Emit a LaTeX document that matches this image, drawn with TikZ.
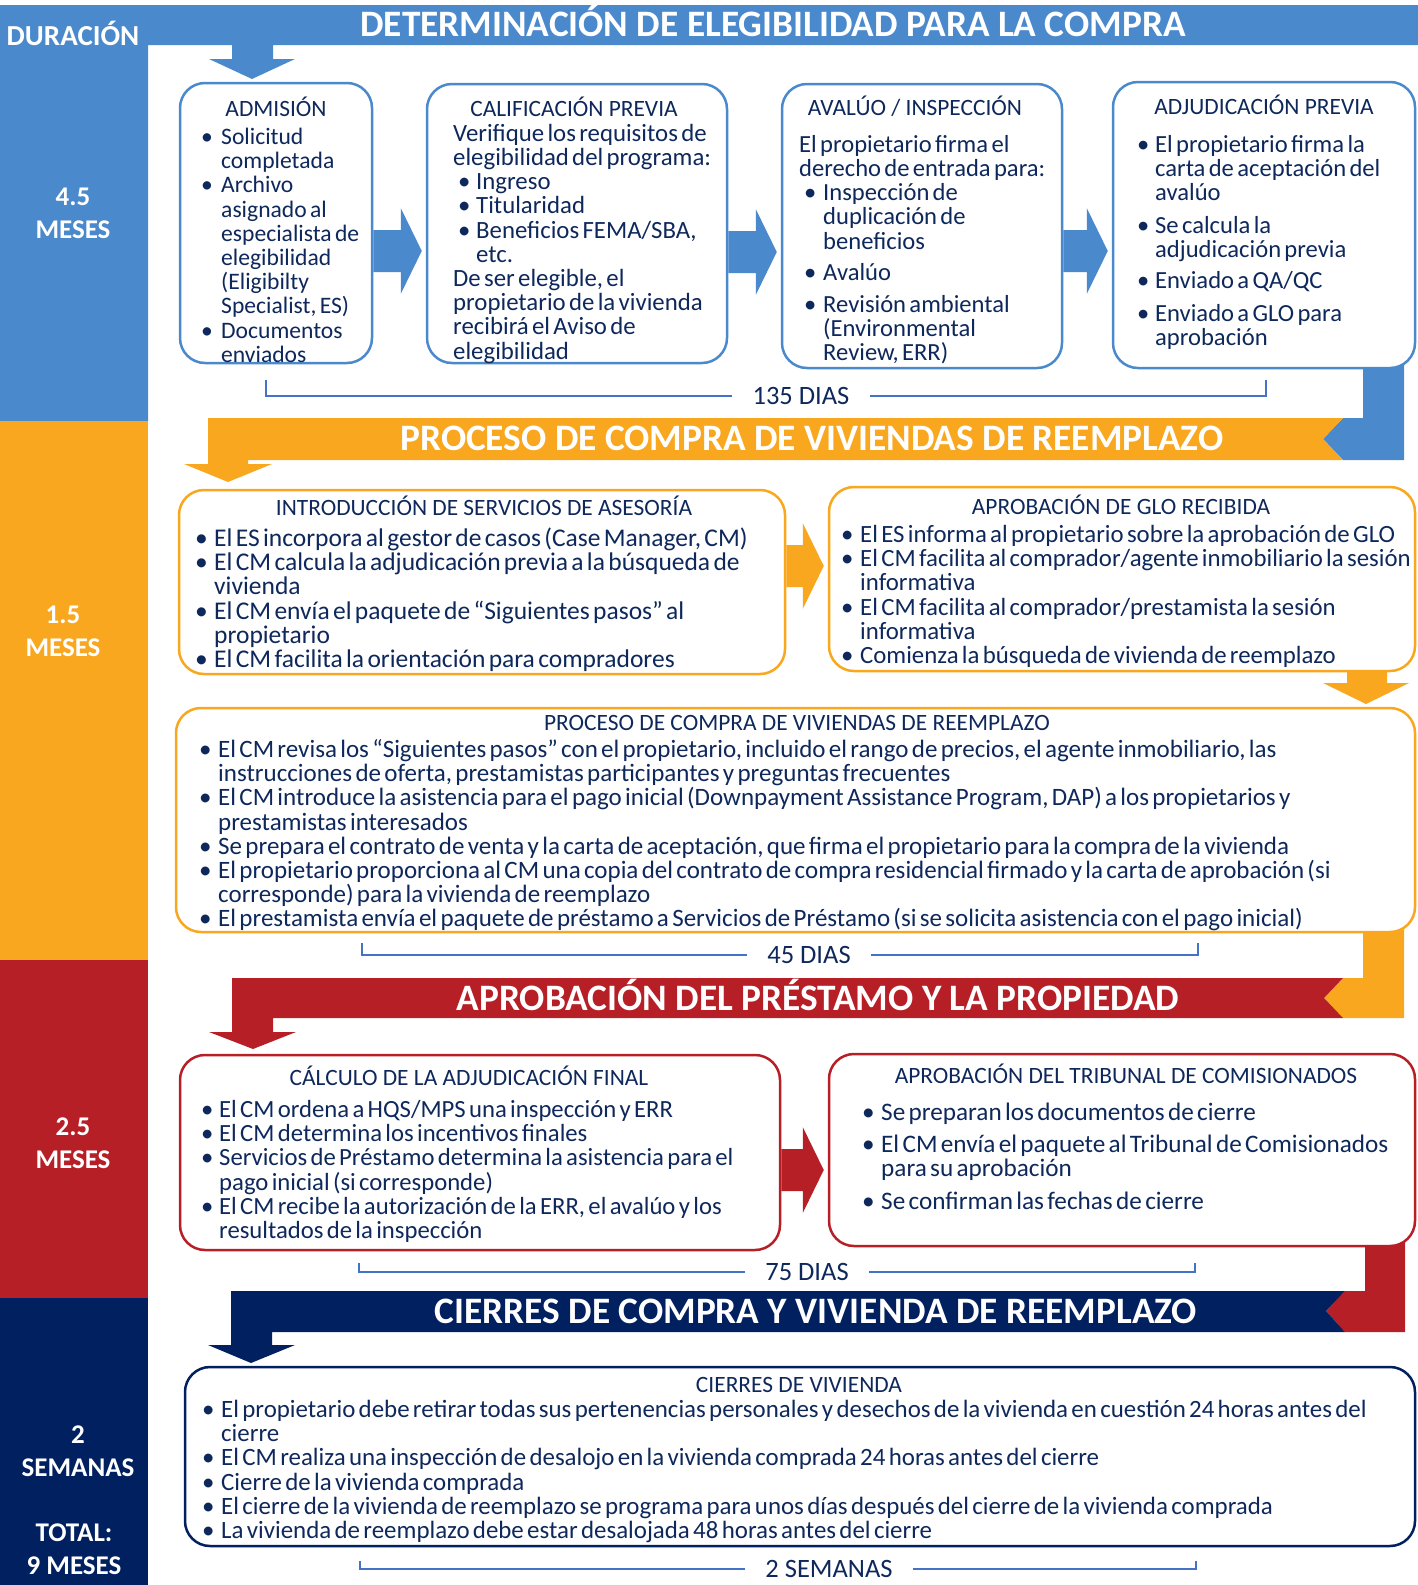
\documentclass[tikz,border=0pt]{standalone}
\usepackage{fontspec}
\setmainfont{Carlito}
\usepackage{tikz}
\usetikzlibrary{calc}
\usetikzlibrary{positioning}

\definecolor{cblue}{RGB}{74,137,204}
\definecolor{corange}{RGB}{249,167,30}
\definecolor{cred}{RGB}{183,31,39}
\definecolor{cnavy}{RGB}{0,32,96}
\definecolor{ctext}{RGB}{14,40,92}
\definecolor{cline}{RGB}{68,114,196}

% bullet lines with hanging indent
\newlength\bind
\newlength\boff
\newcommand{\lb}{\newline}
\newcommand{\fst}{\rule{0pt}{21pt}}
\newcommand{\bodyfont}[1]{\fontsize{#1}{24.2}\selectfont}
\newcommand{\bitem}[1]{\par\noindent\hangindent=\bind\hangafter=1\makebox[\bind][l]{\hspace{\boff}\textbullet}#1}
\newcommand{\bitemsp}[2]{\par\vspace{#1}\bitem{#2}}
% block arrow between two boxes at height #4
\newcommand{\harrow}[4]{%
  \fill[#1] (#2.east |- 0,#4-21) -- ($(#3.west |- 0,#4-21)+(-25,0)$)
    -- ($(#3.west |- 0,#4-43)+(-25,0)$) -- ($(#3.west |- 0,#4)+(-4,0)$)
    -- ($(#3.west |- 0,#4+43)+(-25,0)$) -- ($(#3.west |- 0,#4+21)+(-25,0)$)
    -- (#2.east |- 0,#4+21) -- cycle;}

\begin{document}
\begin{tikzpicture}
		[
		x=1pt, y=-1pt
		]
		
		% Styles for boxes and texts
		\tikzstyle{phasebox}=[line width=2.5pt, fill=white, rounded corners=25pt, inner sep=0pt]
		\tikzstyle{boxtitle}=[anchor=base, inner sep=0pt, text=ctext, font=\fontsize{23.4}{24}\selectfont]
		\tikzstyle{boxbody}=[anchor=north west, inner sep=0pt, text=ctext]
		\tikzstyle{bartitle}=[anchor=base, inner sep=0pt, text=white, font=\fontsize{37.3}{40}\selectfont\bfseries]
		\tikzstyle{sidelabel}=[align=center, inner sep=0pt, text=white, font=\fontsize{27}{33}\selectfont\bfseries]
		\tikzstyle{days}=[inner xsep=20pt, inner ysep=0pt, text=ctext, font=\fontsize{26.5}{28}\selectfont]
		\tikzstyle{bracket}=[draw=cline, line width=1.3pt]
		
		\useasboundingbox (0,0) rectangle (1418,1585);
		
		% Bars and duration column
		\fill[cblue] (0,5) -- (1418,5) -- (1418,45) -- (273,45) -- (273,59) -- (295,59) -- (252,79)
		  -- (209,59) -- (232,59) -- (232,45) -- (148,45) -- (148,421) -- (0,421) -- cycle;
		\fill[cblue] (1363,350) -- (1404,350) -- (1404,460) -- (1343,460) -- (1323,439) -- (1343,418) -- (1363,418) -- cycle;
		\fill[corange] (0,421) rectangle (148,960);
		\fill[corange] (208,418) -- (1343,418) -- (1323,439) -- (1343,460) -- (248,460) -- (248,464) -- (272,464)
		  -- (228,482) -- (184,464) -- (208,464) -- cycle;
		\fill[corange] (1347,660) -- (1387,660) -- (1387,683) -- (1409,683) -- (1366,704) -- (1323,683) -- (1347,683) -- cycle;
		\fill[corange] (1363,910) -- (1404,910) -- (1404,1018) -- (1343,1018) -- (1324,998) -- (1343,978) -- (1363,978) -- cycle;
		\fill[cred] (0,960) rectangle (148,1298);
		\fill[cred] (232,978) -- (1343,978) -- (1324,998) -- (1343,1018) -- (273,1018) -- (273,1032) -- (296,1032)
		  -- (253,1049) -- (209,1032) -- (232,1032) -- cycle;
		\fill[cred] (1365,1230) -- (1405,1230) -- (1405,1332) -- (1345,1332) -- (1326,1311) -- (1345,1291) -- (1365,1291) -- cycle;
		\fill[cnavy] (0,1298) rectangle (148,1585);
		\fill[cnavy] (231,1291) -- (1345,1291) -- (1326,1311) -- (1345,1332) -- (272,1332) -- (272,1345) -- (295,1345)
		  -- (251,1363) -- (208,1345) -- (231,1345) -- cycle;
		
		% Bar titles
		\node[bartitle] (t1) at (773,36) {DETERMINACIÓN DE ELEGIBILIDAD PARA LA COMPRA};
		\node[bartitle] (t2) at (812,450) {PROCESO DE COMPRA DE VIVIENDAS DE REEMPLAZO};
		\node[bartitle] (t3) at (818,1010) {APROBACIÓN DEL PRÉSTAMO Y LA PROPIEDAD};
		\node[bartitle] (t4) at (816,1323) {CIERRES DE COMPRA Y VIVIENDA DE REEMPLAZO};
		
		% Duration column
		\node[sidelabel, anchor=base, font=\fontsize{29}{33}\selectfont\bfseries] (dur) at (73,45) {DURACIÓN};
		\node[sidelabel] (m1) at (73,213) {4.5\\MESES};
		\node[sidelabel] (m2) at (63,631) {1.5\\MESES};
		\node[sidelabel] (m3) at (73,1143) {2.5\\MESES};
		\node[sidelabel] (m4) at (78,1451) {2\\SEMANAS};
		\node[sidelabel] (tot) at (74,1549) {TOTAL:\\9 MESES};
		
		% Boxes
		\node[phasebox, draw=cblue, minimum width=192pt, minimum height=280pt] (adm) at (276,223) {};
		\node[phasebox, draw=cblue, minimum width=300pt, minimum height=279pt] (cal) at (577,223.5) {};
		\node[phasebox, draw=cblue, minimum width=280pt, minimum height=284pt] (ava) at (922,226) {};
		\node[phasebox, draw=cblue, minimum width=302pt, minimum height=286pt] (adj) at (1264,225) {};
		\node[phasebox, draw=corange, minimum width=606pt, minimum height=184pt] (intro) at (482,582) {};
		\node[phasebox, draw=corange, minimum width=586pt, minimum height=184pt] (glo) at (1122,579) {};
		\node[phasebox, draw=corange, minimum width=1239pt, minimum height=224pt] (comp) at (795.5,820) {};
		\node[phasebox, draw=cred, minimum width=600pt, minimum height=195pt] (calc) at (480,1152.5) {};
		\node[phasebox, draw=cred, minimum width=586pt, minimum height=192pt] (trib) at (1122,1150) {};
		\node[phasebox, draw=cnavy, minimum width=1230pt, minimum height=179pt] (cier) at (800,1456.5) {};
		
		% Arrows between boxes
		\harrow{cblue}{adm}{cal}{251}
		\harrow{cblue}{cal}{ava}{252}
		\harrow{cblue}{ava}{adj}{251}
		\harrow{corange}{intro}{glo}{566}
		\harrow{cred}{calc}{trib}{1170}
		
		% Box titles
		\node[boxtitle] (adm-t) at (276,116) {ADMISIÓN};
		\node[boxtitle] (cal-t) at (574,116) {CALIFICACIÓN PREVIA};
		\node[boxtitle] (ava-t) at (915,115) {AVALÚO / INSPECCIÓN};
		\node[boxtitle] (adj-t) at (1264,114) {ADJUDICACIÓN PREVIA};
		\node[boxtitle] (intro-t) at (484,515) {INTRODUCCIÓN DE SERVICIOS DE ASESORÍA};
		\node[boxtitle] (glo-t) at (1121,514) {APROBACIÓN DE GLO RECIBIDA};
		\node[boxtitle] (comp-t) at (797,730) {PROCESO DE COMPRA DE VIVIENDAS DE REEMPLAZO};
		\node[boxtitle] (calc-t) at (469,1085) {CÁLCULO DE LA ADJUDICACIÓN FINAL};
		\node[boxtitle] (trib-t) at (1126,1083) {APROBACIÓN DEL TRIBUNAL DE COMISIONADOS};
		\node[boxtitle] (cier-t) at (799,1392) {CIERRES DE VIVIENDA};
		
		% Box texts
		\node[boxbody, text width=175pt] (adm-b) at (201,120) {\bodyfont{23.6}\setlength\bind{20pt}%
			\bitem{\fst Solicitud\lb completada}%
			\bitem{Archivo\lb asignado al\lb especialista de\lb elegibilidad\lb (Eligibilty\lb Specialist, ES)}%
			\bitem{Documentos\lb enviados}\par};
		\node[boxbody, text width=275pt] (cal-b) at (453,120) {\bodyfont{24.8}\setlength\bind{23pt}\setlength\boff{5pt}%
			\noindent\fst Verifique los requisitos de\lb elegibilidad del programa:%
			\bitem{Ingreso}%
			\bitem{Titularidad}%
			\bitem{Beneficios FEMA/SBA,\lb etc.}%
			\par\noindent De ser elegible, el\lb propietario de la vivienda\lb recibirá el Aviso de\lb elegibilidad\par};
		\node[boxbody, text width=263pt] (ava-b) at (799,131) {\bodyfont{24.6}\setlength\bind{24pt}\setlength\boff{5pt}%
			\noindent\fst El propietario firma el\lb derecho de entrada para:%
			\bitem{Inspección de\lb duplicación de\lb beneficios}%
			\bitemsp{7.5pt}{Avalúo}%
			\bitemsp{7.5pt}{Revisión ambiental\lb (Environmental\lb Review, ERR)}\par};
		\node[boxbody, text width=278pt] (adj-b) at (1137,128) {\bodyfont{24.6}\setlength\bind{18pt}%
			\bitem{\fst El propietario firma la\lb carta de aceptación del\lb avalúo}%
			\bitemsp{8pt}{Se calcula la\lb adjudicación previa}%
			\bitemsp{7.5pt}{Enviado a QA/QC}%
			\bitemsp{8pt}{Enviado a GLO para\lb aprobación}\par};
		\node[boxbody, text width=590pt] (intro-b) at (195,522) {\bodyfont{25.5}\setlength\bind{19pt}%
			\bitem{\fst El ES incorpora al gestor de casos (Case Manager, CM)}%
			\bitem{El CM calcula la adjudicación previa a la búsqueda de\lb vivienda}%
			\bitem{El CM envía el paquete de “Siguientes pasos” al\lb propietario}%
			\bitem{El CM facilita la orientación para compradores}\par};
		\node[boxbody, text width=600pt] (glo-b) at (841,518) {\bodyfont{24.8}\setlength\bind{19pt}%
			\bitem{\fst El ES informa al propietario sobre la aprobación de GLO}%
			\bitem{El CM facilita al comprador/agente inmobiliario la sesión\lb informativa}%
			\bitem{El CM facilita al comprador/prestamista la sesión\lb informativa}%
			\bitem{Comienza la búsqueda de vivienda de reemplazo}\par};
		\node[boxbody, text width=1219pt] (comp-b) at (199,733) {\bodyfont{25}\setlength\bind{19pt}%
			\bitem{\fst El CM revisa los “Siguientes pasos” con el propietario, incluido el rango de precios, el agente inmobiliario, las\lb instrucciones de oferta, prestamistas participantes y preguntas frecuentes}%
			\bitem{El CM introduce la asistencia para el pago inicial (Downpayment Assistance Program, DAP) a los propietarios y\lb prestamistas interesados}%
			\bitem{Se prepara el contrato de venta y la carta de aceptación, que firma el propietario para la compra de la vivienda}%
			\bitem{El propietario proporciona al CM una copia del contrato de compra residencial firmado y la carta de aprobación (si\lb corresponde) para la vivienda de reemplazo}%
			\bitem{El prestamista envía el paquete de préstamo a Servicios de Préstamo (si se solicita asistencia con el pago inicial)}\par};
		\node[boxbody, text width=579pt] (calc-b) at (201,1093) {\bodyfont{24.7}\setlength\bind{18pt}%
			\bitem{\fst El CM ordena a HQS/MPS una inspección y ERR}%
			\bitem{El CM determina los incentivos finales}%
			\bitem{Servicios de Préstamo determina la asistencia para el\lb pago inicial (si corresponde)}%
			\bitem{El CM recibe la autorización de la ERR, el avalúo y los\lb resultados de la inspección}\par};
		\node[boxbody, text width=553pt] (trib-b) at (862,1096) {\bodyfont{25.2}\setlength\bind{19pt}%
			\bitem{\fst Se preparan los documentos de cierre}%
			\bitemsp{8pt}{El CM envía el paquete al Tribunal de Comisionados\lb para su aprobación}%
			\bitemsp{8pt}{Se confirman las fechas de cierre}\par};
		\node[boxbody, text width=1213pt] (cier-b) at (202,1393) {\bodyfont{24.9}\setlength\bind{19pt}%
			\bitem{\fst El propietario debe retirar todas sus pertenencias personales y desechos de la vivienda en cuestión 24 horas antes del\lb cierre}%
			\bitem{El CM realiza una inspección de desalojo en la vivienda comprada 24 horas antes del cierre}%
			\bitem{Cierre de la vivienda comprada}%
			\bitem{El cierre de la vivienda de reemplazo se programa para unos días después del cierre de la vivienda comprada}%
			\bitem{La vivienda de reemplazo debe estar desalojada 48 horas antes del cierre}\par};
		
		% Durations under each phase
		\node[days] (d1) at (801,396) {135 DIAS};
		\draw[bracket] (266,380) |- (d1.west);
		\draw[bracket] (d1.east) -| (1266,380);
		\node[days] (d2) at (809,955) {45 DIAS};
		\draw[bracket] (362,943) |- (d2.west);
		\draw[bracket] (d2.east) -| (1198,943);
		\node[days] (d3) at (807,1272) {75 DIAS};
		\draw[bracket] (359,1263) |- (d3.west);
		\draw[bracket] (d3.east) -| (1195,1263);
		\node[days] (d4) at (829,1569) {2 SEMANAS};
		\draw[bracket] (360,1561) |- (d4.west);
		\draw[bracket] (d4.east) -| (1196,1561);
		
\end{tikzpicture}
\end{document}
